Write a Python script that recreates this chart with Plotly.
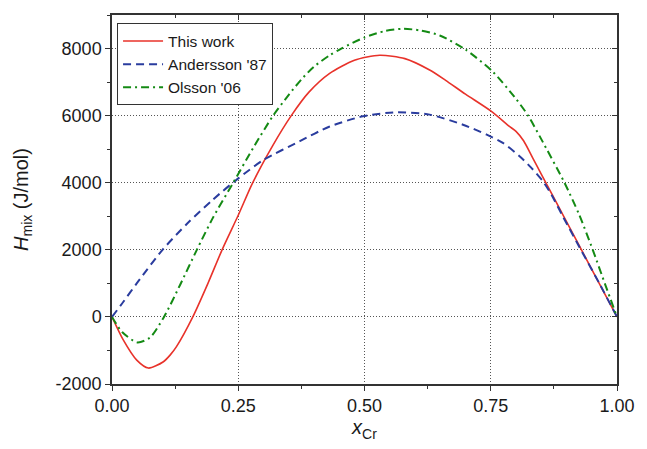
import plotly.graph_objects as go

# ---- data ----
this_work_x = [0, 0.022, 0.049, 0.072, 0.101, 0.115, 0.128, 0.16, 0.19, 0.218, 0.25, 0.278, 0.318, 0.355,
               0.39, 0.431, 0.48, 0.53, 0.58, 0.629, 0.66, 0.70, 0.75, 0.787, 0.80, 0.815, 0.833,
               0.85, 0.90, 0.95, 1.0]
this_work_y = [0, -680, -1290, -1525, -1345, -1140, -880, 0, 1000, 2000, 3030, 3980, 5100, 6000,
               6700, 7260, 7650, 7800, 7700, 7360, 7060, 6640, 6140, 5680, 5530, 5250, 4740,
               4260, 2840, 1420, 0]

andersson_x = [0, 0.02, 0.05, 0.10, 0.15, 0.20, 0.25, 0.30, 0.372, 0.43, 0.497, 0.563, 0.629,
               0.695, 0.741, 0.774, 0.807, 0.83, 0.853, 0.87, 0.893, 0.93, 0.965, 1.0]
andersson_y = [0, 400, 1020, 2000, 2800, 3500, 4130, 4680, 5240, 5670, 5980, 6100, 6030,
               5730, 5440, 5190, 4790, 4450, 4050, 3650, 2990, 1960, 1000, 0]

olsson_x = [0, 0.02, 0.05, 0.075, 0.103, 0.135, 0.168, 0.20, 0.24, 0.28, 0.319, 0.35, 0.375,
            0.40, 0.431, 0.454, 0.50, 0.54, 0.576, 0.61, 0.649, 0.70, 0.754, 0.80, 0.824,
            0.85, 0.896, 0.925, 0.952, 0.977, 1.0]
olsson_y = [0, -450, -760, -620, 0, 960, 2000, 2960, 4000, 5050, 6000, 6620, 7080,
            7460, 7800, 8000, 8330, 8520, 8590, 8540, 8390, 7970, 7310, 6500, 6000,
            5300, 4000, 3050, 2000, 950, 0]

series_names = ["This work", "Andersson '87", "Olsson '06"]
x_ticks = [0, 0.25, 0.5, 0.75, 1.0]
x_tick_labels = ["0.00", "0.25", "0.50", "0.75", "1.00"]
y_ticks = [-2000, 0, 2000, 4000, 6000, 8000]
y_tick_labels = ["-2000", "0", "2000", "4000", "6000", "8000"]

FONT = "Liberation Sans, Arial, sans-serif"

fig = go.Figure()
fig.add_trace(go.Scatter(x=this_work_x, y=this_work_y, name=series_names[0], mode="lines",
                         line=dict(color="#e8322a", width=1.6, shape="spline", smoothing=0.7)))
fig.add_trace(go.Scatter(x=andersson_x, y=andersson_y, name=series_names[1], mode="lines",
                         line=dict(color="#2a3c9e", width=2, dash="8px,5px", shape="spline", smoothing=0.7)))
fig.add_trace(go.Scatter(x=olsson_x, y=olsson_y, name=series_names[2], mode="lines",
                         line=dict(color="#148a14", width=2, dash="8px,4px,2px,4px", shape="spline", smoothing=0.7)))
# empty helper trace for the mirrored (inside) ticks on top/right
fig.add_trace(go.Scatter(x=[], y=[], xaxis="x2", yaxis="y2", showlegend=False, hoverinfo="skip"))

axis_common = dict(showline=True, linecolor="#333333", linewidth=1.5, mirror=True,
                   tickcolor="#333333", tickwidth=1.2, zeroline=False)
grid_common = dict(showgrid=True, gridcolor="#555555", griddash="1px,2px", gridwidth=1)

# the page body has an 8px margin, so the figure is 8px smaller and its margins shifted
fig.update_layout(
    width=639, height=441,
    margin=dict(l=104, r=30, t=5, b=65),
    paper_bgcolor="white", plot_bgcolor="white",
    font=dict(family=FONT, color="#1a1a1a"),
    showlegend=True,
    legend=dict(x=0.01, y=0.977, xanchor="left", yanchor="top",
                bgcolor="white", bordercolor="#333333", borderwidth=1,
                font=dict(size=15.5, family=FONT), itemwidth=40, tracegroupgap=0),
    xaxis=dict(range=[0, 1], tickvals=x_ticks, ticktext=x_tick_labels,
               ticks="outside", ticklen=5, tickfont=dict(size=18),
               minor=dict(dtick=0.125, ticks="outside", ticklen=3, tickcolor="#333333", showgrid=False),
               title=dict(text="<i>x</i><sub>Cr</sub>", font=dict(size=20), standoff=1),
               **axis_common, **grid_common),
    yaxis=dict(range=[-2000, 9000], tickvals=y_ticks, ticktext=y_tick_labels,
               ticks="outside", ticklen=5, tickfont=dict(size=18),
               minor=dict(dtick=1000, tick0=-2000, ticks="outside", ticklen=3, tickcolor="#333333", showgrid=False),
               title=dict(text="<i>H</i><sub>mix</sub> (J/mol)", font=dict(size=20), standoff=22),
               **axis_common, **grid_common),
    xaxis2=dict(range=[0, 1], overlaying="x", side="top", anchor="y2",
                tickvals=x_ticks, ticks="inside", ticklen=5, showticklabels=False,
                minor=dict(dtick=0.125, ticks="inside", ticklen=3, tickcolor="#333333"),
                showgrid=False, showline=False, zeroline=False, tickcolor="#333333", tickwidth=1.2),
    yaxis2=dict(range=[-2000, 9000], overlaying="y", side="right", anchor="x2",
                tickvals=y_ticks, ticks="inside", ticklen=5, showticklabels=False,
                minor=dict(dtick=1000, tick0=-2000, ticks="inside", ticklen=3, tickcolor="#333333"),
                showgrid=False, showline=False, zeroline=False, tickcolor="#333333", tickwidth=1.2),
)

fig.write_html("out.html")
